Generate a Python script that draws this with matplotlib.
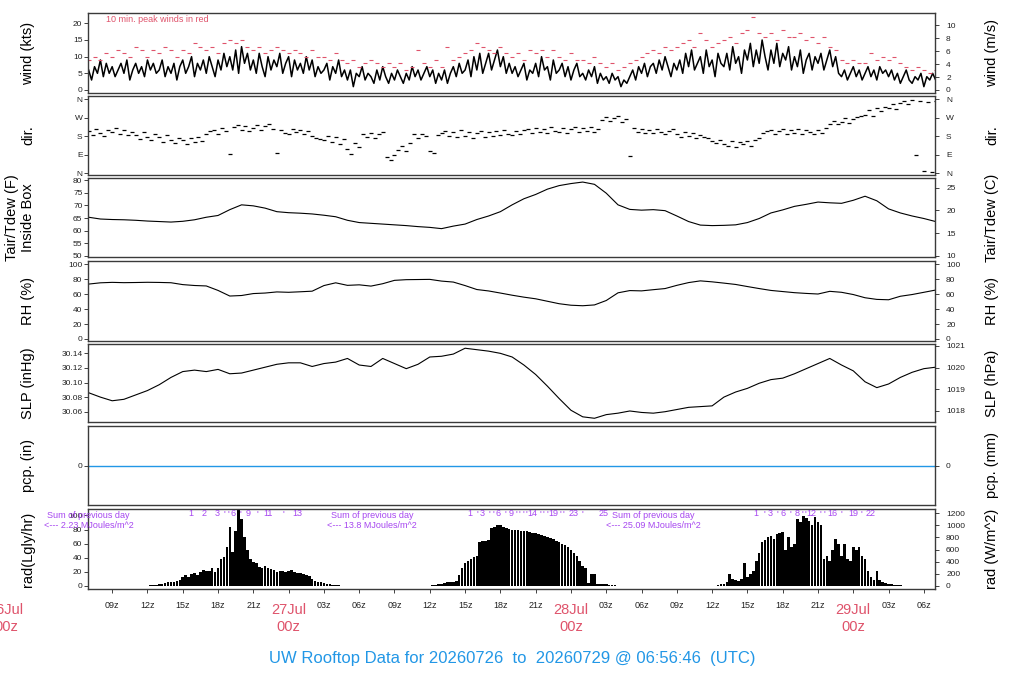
import numpy as np
import matplotlib.pyplot as plt
import matplotlib.transforms as mtransforms

plt.rcParams['font.family'] = ['Liberation Sans', 'DejaVu Sans']

# time axis: hours after 26Jul 00z
T_START, T_END = 6.946, 78.946

# wind speed (kts), every 15 min from 26Jul 07z
wind_kts = [
    6, 3, 7, 5, 9, 4, 8, 5,
    7, 4, 6, 8, 5, 9, 3, 6,
    8, 5, 7, 4, 9, 6, 8, 5,
    6, 9, 4, 7, 5, 8, 3, 7,
    9, 5, 7, 10, 4, 8, 6, 9,
    5, 10, 7, 4, 9, 6, 11, 7,
    10, 6, 12, 5, 13, 8, 11, 6,
    9, 5, 11, 7, 4, 10, 6, 9,
    7, 11, 5, 8, 10, 4, 9, 6,
    8, 5, 10, 6, 9, 4, 7, 5,
    6, 8, 3, 7, 5, 9, 4, 6,
    3, 6, 1, 5, 4, 7, 3, 5,
    4, 2, 6, 3, 7, 4, 2, 5,
    3, 6, 4, 2, 5, 3, 7, 4,
    6, 3, 5, 7, 4, 6, 2, 5,
    3, 6, 2, 5, 7, 4, 8, 5,
    6, 9, 4, 10, 6, 11, 5, 8,
    11, 6, 9, 12, 7, 10, 5, 8,
    5, 7, 4, 6, 8, 3, 6, 5,
    8, 4, 10, 6, 7, 3, 9, 5,
    6, 8, 4, 7, 3, 6, 8, 4,
    5, 3, 6, 4, 7, 2, 5, 3,
    4, 2, 5, 3, 4, 1, 3, 2,
    4, 6, 3, 7, 5, 8, 4, 7,
    8, 5, 9, 6, 10, 7, 4, 8,
    6, 9, 5, 11, 7, 12, 6, 8,
    10, 5, 12, 7, 9, 4, 11, 8,
    7, 11, 6, 13, 8, 10, 5, 12,
    9, 14, 7, 12, 8, 15, 10, 6,
    12, 8, 14, 7, 11, 9, 13, 6,
    10, 7, 12, 5, 9, 11, 6, 10,
    8, 11, 6, 9, 12, 7, 10, 5,
    4, 6, 3, 5, 7, 4, 6, 3,
    5, 7, 4, 6, 3, 7, 5, 6,
    4, 6, 3, 5, 2, 4, 6, 3,
    2, 4, 3, 5, 1, 4, 3, 5,
    3,
]

# 10 min peak wind (kts), every 30 min from 07z
peak_kts = [
    9, 10, 9, 11,
    10, 12, 11, 10,
    13, 12, 10, 12,
    11, 13, 12, 10,
    12, 11, 14, 13,
    12, 13, 11, 14,
    15, 14, 15, 13,
    12, 13, 11, 12,
    13, 12, 11, 12,
    11, 10, 12, 10,
    10, 9, 11, 9,
    8, 9, 7, 8,
    9, 8, 7, 8,
    7, 8, 6, 7,
    12, 8, 7, 9,
    7, 13, 9, 10,
    11, 12, 14, 13,
    12, 11, 13, 11,
    10, 11, 9, 12,
    11, 12, 10, 12,
    10, 9, 11, 9,
    9, 8, 10, 8,
    7, 8, 6, 7,
    8, 9, 10, 11,
    12, 11, 13, 12,
    13, 14, 15, 13,
    17, 15, 13, 14,
    15, 16, 14, 17,
    18, 22, 17, 16,
    17, 15, 18, 16,
    16, 17, 15, 16,
    14, 16, 13, 12,
    9, 8, 9, 8,
    8, 11, 9, 10,
    9, 10, 8, 7,
    6, 7, 6, 5,
    6,
]

# wind direction (deg), every 20 min from 07z
dir_deg = [
    205, 185, 215, 195, 180, 210,
    200, 220, 190, 210, 185, 200,
    185, 165, 200, 175, 160, 190,
    175, 150, 185, 160, 145, 170,
    160, 140, 170, 150, 175, 155,
    190, 205, 210, 190, 220, 205,
    96, 225, 235, 210, 230, 205,
    220, 235, 210, 230, 240, 215,
    100, 210, 195, 190, 215, 200,
    210, 190, 205, 180, 170, 165,
    160, 180, 150, 175, 140, 165,
    120, 95, 145, 130, 190, 175,
    195, 170, 190, 200, 80, 65,
    90, 115, 135, 110, 145, 190,
    170, 190, 180, 110, 100, 185,
    195, 205, 180, 200, 175, 210,
    180, 200, 170, 195, 205, 175,
    200, 180, 205, 185, 210, 190,
    185, 205, 190, 210, 215, 195,
    220, 200, 215, 195, 225, 205,
    200, 220, 195, 215, 225, 200,
    220, 205, 225, 200, 215, 260,
    275, 255, 270, 280, 250, 265,
    85, 220, 200, 215, 195, 210,
    195, 215, 200, 190, 205, 215,
    190, 175, 200, 180, 195, 170,
    185, 175, 170, 155, 145, 160,
    140, 135, 155, 130, 150, 140,
    155, 135, 160, 170, 195, 205,
    210, 190, 205, 215, 190, 210,
    195, 215, 190, 210, 200, 190,
    210, 195, 220, 240, 255, 240,
    250, 270, 245, 265, 275, 280,
    285, 305, 280, 315, 300, 320,
    315, 335, 310, 340, 350, 335,
    355, 90, 350, 10, 345, 5,
    350,
]

# hourly values from 07z
temp_f = [
    65.3, 64.6, 64.4, 64.3, 64.1, 63.8, 63.6, 63.4, 63.7, 64.3, 65.3, 66.0,
    68.3, 70.2, 69.8, 68.9, 67.5, 67.1, 66.9, 66.6, 66.1, 65.5, 64.1, 63.2,
    62.9, 62.6, 62.3, 62.0, 61.6, 61.3, 60.8, 61.8, 62.6, 64.4, 65.8, 67.5,
    70.2, 72.6, 74.3, 76.4, 77.8, 78.6, 79.2, 78.3, 74.8, 70.2, 68.4, 68.1,
    68.3, 67.9, 65.8, 63.6, 62.2, 62.0, 62.1, 62.3, 63.2, 64.8, 67.0, 68.2,
    69.6, 70.4, 71.3, 71.0, 70.8, 72.0, 73.6, 71.8, 68.6, 67.0, 65.8, 64.8,
    63.6,
]
rh_pct = [
    73.5, 75.2, 75.8, 75.4, 75.6, 75.9, 75.7, 75.3, 72.8, 71.6, 71.0, 65.0,
    57.5, 58.2, 60.8, 61.5, 63.0, 62.5, 63.2, 64.0, 71.5, 75.2, 71.8, 72.5,
    70.8, 74.0, 78.5, 79.4, 79.6, 79.8, 77.5, 76.2, 71.5, 66.2, 64.3, 61.5,
    58.6, 56.0, 53.8, 50.5, 47.2, 45.2, 44.5, 45.6, 51.5, 61.8, 64.8, 64.4,
    66.0, 67.5, 71.8, 75.5, 77.8, 76.5, 74.8, 73.0, 70.2, 67.5, 65.0, 63.5,
    62.0, 61.0, 60.2, 63.8, 62.5, 59.5, 55.2, 53.0, 52.5, 57.2, 59.5, 62.5,
    65.5,
]
slp_inhg = [
    30.086, 30.080, 30.075, 30.077, 30.083, 30.089, 30.097, 30.107, 30.115,
    30.117, 30.115, 30.118, 30.112, 30.113, 30.117, 30.121, 30.125, 30.127,
    30.127, 30.122, 30.126, 30.128, 30.133, 30.124, 30.122, 30.133, 30.126,
    30.119, 30.125, 30.135, 30.136, 30.139, 30.147, 30.145, 30.143, 30.140,
    30.135, 30.124, 30.111, 30.095, 30.078, 30.062, 30.053, 30.051, 30.056,
    30.058, 30.061, 30.059, 30.058, 30.060, 30.063, 30.066, 30.067, 30.068,
    30.080, 30.087, 30.092, 30.099, 30.104, 30.106, 30.112, 30.119, 30.126,
    30.133, 30.124, 30.116, 30.101, 30.093, 30.098, 30.107, 30.114, 30.119,
    30.121,
]
pcp_in = [0.0] * len(temp_f)

# solar radiation (W/m^2), every 15 min, one block per day
rad_starts = [12.0, 36.0, 60.5]
rad_day1 = [
    0, 10, 15, 20, 25, 35, 50, 60, 65, 60, 75, 100, 140, 175, 150, 200,
    215, 180, 230, 260, 250, 240, 290, 230, 300, 450, 480, 650,
    980, 560, 900, 1250, 1100, 800, 600, 450, 400, 380, 320, 290,
    330, 300, 280, 270, 230, 240, 250, 230, 240, 260, 230, 210,
    210, 200, 180, 160, 120, 90, 70, 60, 50, 40, 30, 20, 15, 10, 5, 0,
]
rad_day2 = [
    0, 15, 20, 25, 40, 55, 60, 65, 70, 80, 180, 300,
    380, 420, 450, 470, 500, 720, 750, 740, 760, 950, 980, 1000,
    1010, 970, 950, 940, 930, 925, 920, 915, 910, 900, 890, 880,
    870, 860, 845, 830, 815, 795, 775, 750, 725, 700, 670, 645,
    600, 550, 490, 420, 330, 290, 50, 200, 195, 40, 35, 30,
    25, 20, 15, 10, 5, 0,
]
rad_day3 = [
    10, 25, 40, 60, 200, 120, 100, 90, 110, 380, 150, 200, 250, 420,
    550, 720, 760, 800, 820, 780, 850, 880, 890, 600, 800, 650,
    700, 1100, 1050, 1150, 1120, 1080, 1000, 1130, 1050, 1000, 450, 500,
    420, 600, 780, 700, 500, 700, 450, 420, 650, 600, 640, 500,
    450, 250, 150, 100, 240, 100, 60, 50, 40, 30, 20, 15, 10, 0,
]
rad_days = [rad_day1, rad_day2, rad_day3]

# running daily sum (MJ/m^2) marks along the top of the rad panel
rad_marks = [
    (15.71, '1'), (16.82, '2'), (17.92, '3'), (18.52, "'"), (18.86, "'"),
    (19.29, '6'), (19.88, "'"), (20.56, '9'), (21.33, "'"), (22.27, '11'),
    (23.54, "'"), (24.73, '13'),
    (39.37, '1'), (40.05, "'"), (40.48, '3'), (41.07, "'"), (41.41, "'"),
    (41.84, '6'), (42.43, "'"), (42.95, '9'), (43.37, "'"), (43.63, "'"),
    (43.97, "'"), (44.22, "'"), (44.73, '14'), (45.41, "'"), (45.67, "'"),
    (46.01, "'"), (46.52, '19'), (47.12, "'"), (47.37, "'"), (48.22, '23'),
    (48.99, "'"), (50.78, '25'),
    (63.71, '1'), (64.48, "'"), (64.90, '3'), (65.58, "'"), (66.01, '6'),
    (66.61, "'"), (67.20, '8'), (67.63, "'"), (67.89, "'"), (68.40, '12'),
    (69.17, "'"), (69.51, "'"), (70.19, '16'), (70.96, "'"), (71.98, '19'),
    (72.66, "'"), (73.51, '22'),
]
day_sums = [(7.0, '2.23'), (31.1, '13.8'), (55.0, '25.09')]

hour_ticks = list(range(9, 79, 3))
day_names = [(0, '26Jul'), (24, '27Jul'), (48, '28Jul'), (72, '29Jul')]

RED = '#DF536B'
BLUE = '#2297E6'
PURPLE = '#A646F0'

W, H = 1024, 700
fig = plt.figure(figsize=(W / 100, H / 100), dpi=100)

panels_px = [(13, 93), (96, 175), (178, 257), (261, 341), (344, 422),
             (426, 505), (509, 589)]
left_px, right_px = 88, 935


def make_ax(top, bot):
    ax = fig.add_axes([left_px / W, 1 - bot / H, (right_px - left_px) / W,
                       (bot - top) / H])
    ax.set_xlim(T_START, T_END)
    ax.set_xticks([])
    for s in ax.spines.values():
        s.set_color('#3a3a3a')
        s.set_linewidth(1.0)
    return ax


def style_y(ax, side):
    ax.tick_params(axis='y', direction='out', length=3, width=0.6,
                   labelsize=6, pad=1 if side == 'left' else 5,
                   colors='#222222')


axes = [make_ax(t, b) for t, b in panels_px]
for ax in axes:
    style_y(ax, 'left')


def right_twin(ax, lim, ticks, labels=None):
    ax2 = ax.twinx()
    ax2.set_ylim(*lim)
    ax2.set_yticks(ticks)
    if labels is not None:
        ax2.set_yticklabels(labels)
    style_y(ax2, 'right')
    ax2.set_xlim(T_START, T_END)
    ax2.set_xticks([])
    for s in ax2.spines.values():
        s.set_visible(False)
    return ax2


# wind
ax = axes[0]
wt = T_START + 0.054 + 0.25 * np.arange(len(wind_kts))
pt = T_START + 0.054 + 0.5 * np.arange(len(peak_kts))
ax.plot(wt, wind_kts, color='black', lw=1.1)
ax.plot(pt, peak_kts, ls='none', marker='_', ms=3, mew=0.8, color=RED)
ax.set_ylim(-0.9, 23.1)
ax.set_yticks([0, 5, 10, 15, 20])
right_twin(ax, (-0.9 * 0.5144, 23.1 * 0.5144), [0, 2, 4, 6, 8, 10])
fig.text(106 / W, 1 - 20 / H, '10 min. peak winds in red', color=RED,
         fontsize=6.5, ha='left', va='center')

# direction
ax = axes[1]
dt = T_START + 0.054 + np.arange(len(dir_deg)) / 3
ax.plot(dt, dir_deg, ls='none', marker='_', ms=2.5, mew=0.9, color='black')
ax.set_ylim(-8, 375)
ax.set_yticks([0, 90, 180, 270, 360])
ax.set_yticklabels(['N', 'E', 'S', 'W', 'N'])
right_twin(ax, (-8, 375), [0, 90, 180, 270, 360], ['N', 'E', 'S', 'W', 'N'])

hours = T_START + 0.054 + np.arange(len(temp_f))

# temperature
ax = axes[2]
ax.plot(hours, temp_f, color='black', lw=0.8)
ax.set_ylim(49.6, 80.8)
ax.set_yticks([50, 55, 60, 65, 70, 75, 80])
right_twin(ax, ((49.6 - 32) / 1.8, (80.8 - 32) / 1.8), [10, 15, 20, 25])

# humidity
ax = axes[3]
ax.plot(hours, rh_pct, color='black', lw=0.8)
ax.set_ylim(-2.7, 104.4)
ax.set_yticks([0, 20, 40, 60, 80, 100])
right_twin(ax, (-2.7, 104.4), [0, 20, 40, 60, 80, 100])

# pressure
ax = axes[4]
ax.plot(hours, slp_inhg, color='black', lw=0.8)
ax.set_ylim(30.0459, 30.1528)
ax.set_yticks([30.06, 30.08, 30.10, 30.12, 30.14])
ax.set_yticklabels(['30.06', '30.08', '30.10', '30.12', '30.14'])
right_twin(ax, (30.0459 * 33.8639, 30.1528 * 33.8639),
           [1018, 1019, 1020, 1021])

# precipitation
ax = axes[5]
ax.plot(np.r_[T_START, hours, T_END], np.r_[0, pcp_in, 0], color=BLUE, lw=1.0)
ax.set_ylim(-1, 1)
ax.set_yticks([0])
right_twin(ax, (-1, 1), [0])

# radiation
ax = axes[6]
for start, vals in zip(rad_starts, rad_days):
    rt = start + 0.25 * np.arange(len(vals))
    ax.bar(rt, vals, width=0.22, color='black', linewidth=0)
ax.set_ylim(-50, 1270)
ly = [0, 20, 40, 60, 80, 100]
ax.set_yticks([v * 11.63 for v in ly])
ax.set_yticklabels([str(v) for v in ly])
right_twin(ax, (-50, 1270), [0, 200, 400, 600, 800, 1000, 1200])

ax.set_xticks(hour_ticks)
ax.set_xticklabels(['' if h % 24 == 0 else '%02dz' % (h % 24)
                    for h in hour_ticks])
ax.tick_params(axis='x', direction='out', length=3, width=0.6,
               labelsize=6.5, pad=6, colors='#222222')

blend = mtransforms.blended_transform_factory(ax.transData, ax.transAxes)
for t, lab in rad_marks:
    ax.text(t, 0.9375, lab, transform=blend, color=PURPLE, fontsize=6.5,
            ha='center', va='center', clip_on=False)
for t, total in day_sums:
    ax.text(t, 0.925, 'Sum of previous day', transform=blend, color=PURPLE,
            fontsize=6.5, ha='center', va='center', clip_on=False)
    ax.text(t, 0.7875, '<--- %s MJoules/m^2' % total, transform=blend,
            color=PURPLE, fontsize=6.5, ha='center', va='center',
            clip_on=False)

for t, name in day_names:
    ax.text(t, -0.2625, name, transform=blend, color=RED, fontsize=10.5,
            ha='center', va='center', clip_on=False)
    ax.text(t, -0.475, '00z', transform=blend, color=RED, fontsize=10.5,
            ha='center', va='center', clip_on=False)

# axis titles
left_labels = ['wind (kts)', 'dir.', 'Tair/Tdew (F)\nInside Box', 'RH (%)',
               'SLP (inHg)', 'pcp. (in)', 'rad(Lgly/hr)']
right_labels = ['wind (m/s)', 'dir.', 'Tair/Tdew (C)', 'RH (%)', 'SLP (hPa)',
                'pcp. (mm)', 'rad (W/m^2)']
for (top, bot), ll, rl in zip(panels_px, left_labels, right_labels):
    yc = 1 - (top + bot) / 2 / H
    xl = 20 if '\n' in ll else 28
    fig.text(xl / W, yc, ll, rotation=90, ha='center', va='center',
             fontsize=10.5, linespacing=1.1)
    fig.text(992 / W, yc, rl, rotation=90, ha='center', va='center',
             fontsize=10.5)

fig.text(0.5, 1 - 659 / H,
         'UW Rooftop Data for 20260726  to  20260729 @ 06:56:46  (UTC)',
         color=BLUE, fontsize=12, ha='center', va='center')

fig.savefig('out.png', dpi=100)
